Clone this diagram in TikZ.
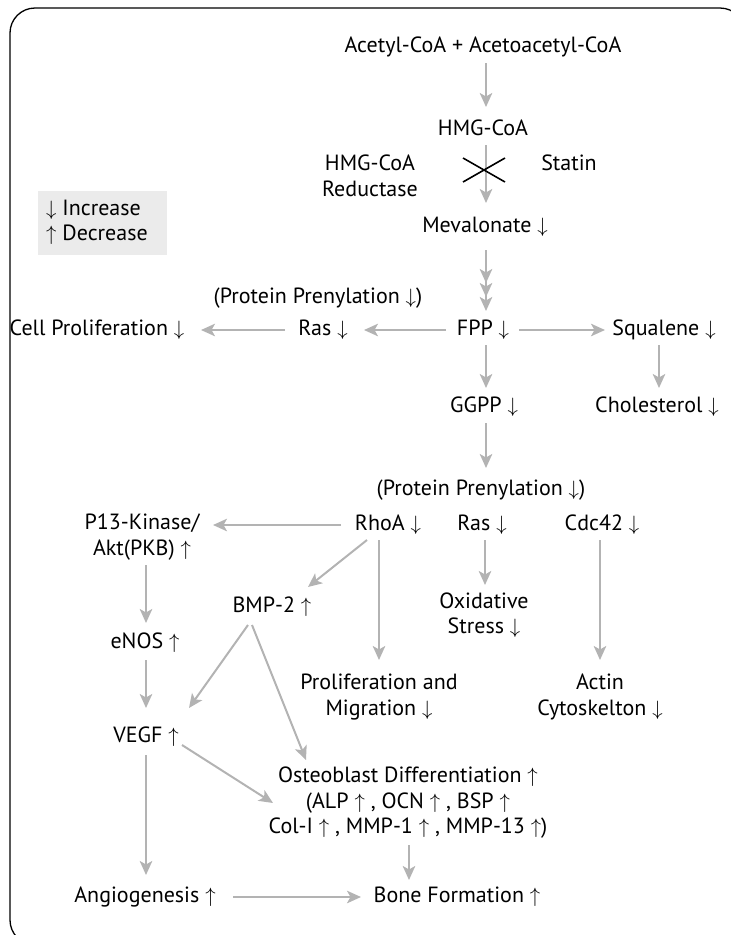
\documentclass[tikz,border=0pt]{standalone}
\usepackage{fontspec}
\setmainfont{PT Sans}
\usetikzlibrary{arrows.meta,calc}
\definecolor{arrgray}{HTML}{B3B3B3}
\definecolor{leggray}{HTML}{EBEBEB}
\newcommand{\dnar}{$\downarrow$}
\newcommand{\upar}{$\uparrow$}
\tikzset{
  lbl/.style={inner sep=0pt, font=\fontsize{22}{25.5}\selectfont, align=center},
  arr/.style={draw=arrgray, line width=2pt, -{Stealth[length=14pt,width=12.5pt,inset=3.5pt]}},
  arrthree/.style={draw=arrgray, line width=2pt,
    -{Stealth[length=14pt,width=12.5pt,inset=3.5pt]Stealth[length=14pt,width=12.5pt,inset=3.5pt]Stealth[length=14pt,width=12.5pt,inset=3.5pt]}},
  frame/.style={draw=black, line width=1.3pt, rounded corners=25pt},
  blockmark/.style={draw=black, line width=1.6pt},
}
\begin{document}
\begin{tikzpicture}[x=1pt,y=-1pt]
\useasboundingbox (0,0) rectangle (731,935);
\begin{scope}
  \clip (0,0) rectangle (731,935);
  \draw[frame] (10,8) rectangle (745,945);
\end{scope}

% legend
\node[fill=leggray, minimum width=129pt, minimum height=64pt, inner sep=0pt] (legbox) at (102.5,223) {};
\node[lbl, anchor=west] (legone) at (46,210) {\dnar\ Increase};
\node[lbl, anchor=west] (legtwo) at (46,235) {\upar\ Decrease};

% nodes
\node[lbl] (acetyl) at (483,47) {Acetyl-CoA + Acetoacetyl-CoA};
\node[lbl] (hmg) at (483,128) {HMG-CoA};
\node[lbl] (red) at (370,176) {HMG-CoA\\Reductase};
\node[lbl] (statin) at (569,163) {Statin};
\node[lbl] (mev) at (485,227) {Mevalonate \dnar};
\node[lbl] (prenylone) at (318,298) {(Protein Prenylation \dnar)};
\node[lbl] (cell) at (97,330) {Cell Proliferation \dnar};
\node[lbl] (rasone) at (323,330) {Ras \dnar};
\node[lbl] (fpp) at (483,330) {FPP \dnar};
\node[lbl] (squal) at (664,330) {Squalene \dnar};
\node[lbl] (ggpp) at (484,407) {GGPP \dnar};
\node[lbl] (chol) at (657,407) {Cholesterol \dnar};
\node[lbl] (prenyltwo) at (481,490) {(Protein Prenylation \dnar)};
\node[lbl] (rhoa) at (388,525) {RhoA \dnar};
\node[lbl] (rastwo) at (482,525) {Ras \dnar};
\node[lbl] (cdc) at (602,525) {Cdc42 \dnar};
\node[lbl] (pik) at (142,537) {P13-Kinase/\\Akt(PKB) \upar};
\node[lbl] (bmp) at (272,607) {BMP-2 \upar};
\node[lbl] (oxid) at (484,615) {Oxidative\\Stress \dnar};
\node[lbl] (enos) at (145,643) {eNOS \upar};
\node[lbl] (prolif) at (379,697) {Proliferation and\\Migration \dnar};
\node[lbl] (actin) at (600,697) {Actin\\Cytoskelton \dnar};
\node[lbl] (vegf) at (146,737) {VEGF \upar};
\node[lbl] (osteo) at (408,803) {Osteoblast Differentiation \upar\\(ALP \upar\ , OCN \upar\ , BSP \upar\\Col-I \upar\ , MMP-1 \upar\ , MMP-13 \upar)};
\node[lbl] (angio) at (145,897) {Angiogenesis \upar};
\node[lbl] (bone) at (457,897) {Bone Formation \upar};

% connectors
\draw[arr] ($(acetyl.center)+(3,16)$) -- ($(hmg.center)+(3,-21)$);
\draw[arr] ($(hmg.center)+(3,17)$) -- ($(mev.center)+(1,-24)$);
\draw[arrthree] ($(mev.center)+(1,23)$) -- ($(fpp.center)+(3,-19)$);
\draw[arr] ($(fpp.center)+(-37,0)$) -- ($(rasone.center)+(41,0)$);
\draw[arr] ($(rasone.center)+(-38,0)$) -- ($(cell.center)+(104,0)$);
\draw[arr] ($(fpp.center)+(36,0)$) -- ($(squal.center)+(-59,0)$);
\draw[arr] ($(fpp.center)+(3,15)$) -- ($(ggpp.center)+(2,-19)$);
\draw[arr] ($(squal.center)+(-5,15)$) -- ($(chol.center)+(2,-19)$);
\draw[arr] ($(ggpp.center)+(2,16)$) -- ($(prenyltwo.center)+(5,-22)$);
\draw[arr] ($(rhoa.center)+(-47,0)$) -- ($(pik.center)+(71,-12)$);
\draw[arr] ($(rhoa.center)+(-21,15)$) -- ($(bmp.center)+(36,-20)$);
\draw[arr] ($(rhoa.center)+(-9,15)$) -- ($(prolif.center)+(0,-37)$);
\draw[arr] ($(rastwo.center)+(3,15)$) -- ($(oxid.center)+(1,-30)$);
\draw[arr] ($(cdc.center)+(-2,15)$) -- ($(actin.center)+(0,-37)$);
\draw[arr] ($(pik.center)+(4,28)$) -- ($(enos.center)+(1,-20)$);
\draw[arr] ($(enos.center)+(1,17)$) -- ($(vegf.center)+(0,-29)$);
\draw[arr] ($(bmp.center)+(-24,18)$) -- ($(vegf.center)+(43,-29)$);
\draw[arr] ($(bmp.center)+(-20,18)$) -- ($(osteo.center)+(-102,-43)$);
\draw[arr] ($(vegf.center)+(36,8)$) -- ($(osteo.center)+(-135,0)$);
\draw[arr] ($(vegf.center)+(0,18)$) -- ($(angio.center)+(1,-22)$);
\draw[arr] ($(osteo.center)+(1,42)$) -- ($(bone.center)+(-48,-17)$);
\draw[arr] ($(angio.center)+(88,0)$) -- ($(bone.center)+(-96,0)$);

% statin block mark, over the arrow
\coordinate (xmark) at (484,170);
\draw[blockmark] ($(xmark)+(-21,-12)$) -- ($(xmark)+(21,12)$);
\draw[blockmark] ($(xmark)+(-21,12)$) -- ($(xmark)+(21,-12)$);
\end{tikzpicture}
\end{document}
